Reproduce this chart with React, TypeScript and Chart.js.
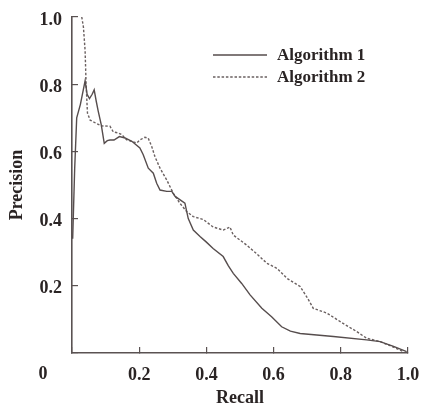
import { useEffect, useRef } from 'react';
import { Chart, registerables } from 'chart.js';

Chart.register(...registerables);

const seriesNames = ['Algorithm 1', 'Algorithm 2'];

const recall1 = [0.002, 0.008, 0.014, 0.025, 0.039, 0.045, 0.052, 0.06, 0.066, 0.072, 0.078, 0.087, 0.096, 0.105, 0.113, 0.125, 0.141, 0.158, 0.178, 0.202, 0.212, 0.227, 0.242, 0.252, 0.262, 0.282, 0.297, 0.307, 0.336, 0.346, 0.361, 0.381, 0.4, 0.42, 0.45, 0.465, 0.48, 0.505, 0.53, 0.565, 0.594, 0.624, 0.65, 0.679, 0.778, 0.877, 0.917, 0.957, 0.996];
const precision1 = [0.34, 0.55, 0.7, 0.74, 0.81, 0.77, 0.757, 0.77, 0.783, 0.75, 0.72, 0.68, 0.624, 0.632, 0.634, 0.634, 0.644, 0.64, 0.63, 0.61, 0.59, 0.55, 0.535, 0.505, 0.485, 0.481, 0.481, 0.466, 0.446, 0.4, 0.366, 0.347, 0.33, 0.311, 0.287, 0.26, 0.237, 0.207, 0.173, 0.133, 0.108, 0.078, 0.065, 0.058, 0.049, 0.039, 0.034, 0.02, 0.004];

const recall2 = [0.029, 0.034, 0.039, 0.042, 0.046, 0.054, 0.073, 0.088, 0.113, 0.123, 0.138, 0.148, 0.163, 0.193, 0.202, 0.217, 0.227, 0.237, 0.247, 0.262, 0.282, 0.301, 0.321, 0.341, 0.361, 0.391, 0.42, 0.45, 0.47, 0.48, 0.52, 0.55, 0.58, 0.61, 0.64, 0.679, 0.7, 0.718, 0.758, 0.807, 0.847, 0.877, 0.917, 0.951, 0.986];
const precision2 = [1.0, 0.97, 0.9, 0.8, 0.714, 0.693, 0.683, 0.676, 0.675, 0.658, 0.655, 0.65, 0.634, 0.625, 0.634, 0.642, 0.639, 0.615, 0.584, 0.55, 0.515, 0.476, 0.446, 0.421, 0.406, 0.397, 0.375, 0.366, 0.375, 0.351, 0.321, 0.295, 0.267, 0.252, 0.222, 0.198, 0.165, 0.133, 0.119, 0.088, 0.064, 0.044, 0.034, 0.02, 0.004];

const axisMin = 0;
const axisMax = 1;
const tickStep = 0.2;
const originLabel = '0';
const xTitle = 'Recall';
const yTitle = 'Precision';

const FONT = "'Liberation Serif', 'Times New Roman', serif";
const TEXT = '#2a2424';
const AXIS = '#5a5252';

const toPoints = (xs: number[], ys: number[]) => xs.map((x, i) => ({ x, y: ys[i] }));

const extrasPlugin = {
  id: 'extras',
  afterDatasetsDraw(chart: any) {
    const { ctx, chartArea } = chart;
    ctx.save();
    ctx.font = `bold 18px ${FONT}`;
    ctx.fillStyle = TEXT;
    // origin label
    ctx.textAlign = 'center';
    ctx.textBaseline = 'middle';
    ctx.fillText(originLabel, chartArea.left - 29, chartArea.bottom + 21);
    // legend
    ctx.font = `bold 17px ${FONT}`;
    chart.data.datasets.forEach((ds: any, i: number) => {
      const y = chartArea.top + 38 + i * 22;
      const x0 = chartArea.left + 141;
      ctx.strokeStyle = ds.borderColor;
      ctx.lineWidth = ds.borderWidth;
      ctx.setLineDash(ds.borderDash || []);
      ctx.beginPath();
      ctx.moveTo(x0, y);
      ctx.lineTo(x0 + 54, y);
      ctx.stroke();
      ctx.setLineDash([]);
      ctx.textAlign = 'left';
      ctx.textBaseline = 'middle';
      ctx.fillText(ds.label, x0 + 64, y + 1);
    });
    ctx.restore();
  },
};

export default function App() {
  const ref = useRef<HTMLCanvasElement>(null);
  useEffect(() => {
    if (!ref.current) return;
    const chart = new Chart(ref.current, {
      type: 'line',
      data: {
        datasets: [
          {
            label: seriesNames[0],
            data: toPoints(recall1, precision1),
            borderColor: '#564d4d',
            borderWidth: 1.4,
            pointRadius: 0,
            tension: 0,
            fill: false,
          },
          {
            label: seriesNames[1],
            data: toPoints(recall2, precision2),
            borderColor: '#6a6060',
            borderWidth: 1.4,
            borderDash: [2.5, 1.8],
            pointRadius: 0,
            tension: 0,
            fill: false,
          },
        ],
      },
      options: {
        responsive: false,
        animation: false,
        layout: { padding: { left: 0, top: 17, right: 14, bottom: 0 } },
        plugins: { legend: { display: false }, tooltip: { enabled: false } },
        scales: {
          x: {
            type: 'linear',
            min: axisMin,
            max: axisMax,
            afterFit: (s: any) => {
              s.height = 54;
              s.paddingLeft = 0;
              s.paddingRight = 0;
            },
            border: { display: true, color: AXIS, width: 1.6 },
            grid: { drawOnChartArea: false, drawTicks: true, tickLength: -6, color: AXIS, lineWidth: 1.2 },
            ticks: {
              stepSize: tickStep,
              padding: 18,
              color: TEXT,
              maxRotation: 0,
              font: { family: FONT, size: 18, weight: 'bold' },
              callback: (v: any) => (Number(v) === 0 ? '' : Number(v).toFixed(1)),
            },
            title: {
              display: true,
              text: xTitle,
              color: TEXT,
              padding: { top: 0, bottom: 0 },
              font: { family: FONT, size: 18, weight: 'bold', lineHeight: 1 },
            },
          },
          y: {
            type: 'linear',
            min: axisMin,
            max: axisMax,
            afterFit: (s: any) => {
              s.width = 72;
              s.paddingTop = 0;
              s.paddingBottom = 0;
            },
            border: { display: true, color: AXIS, width: 1.6 },
            grid: { drawOnChartArea: false, drawTicks: true, tickLength: -6, color: AXIS, lineWidth: 1.2 },
            ticks: {
              stepSize: tickStep,
              padding: 16,
              labelOffset: 3,
              color: TEXT,
              font: { family: FONT, size: 18, weight: 'bold' },
              callback: (v: any) => (Number(v) === 0 ? '' : Number(v).toFixed(1)),
            },
            title: {
              display: true,
              text: yTitle,
              color: TEXT,
              padding: { top: 8, bottom: 0 },
              font: { family: FONT, size: 18, weight: 'bold', lineHeight: 1 },
            },
          },
        },
      },
      plugins: [extrasPlugin],
    } as any);
    return () => chart.destroy();
  }, []);

  return (
    <div style={{ position: 'fixed', left: 0, top: 0, width: 422, height: 407, background: '#fff' }}>
      <canvas ref={ref} width={422} height={407} style={{ display: 'block', width: 422, height: 407 }} />
    </div>
  );
}
